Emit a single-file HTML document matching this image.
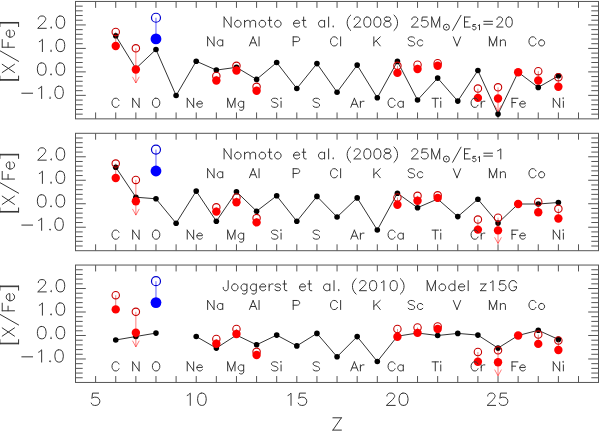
<!DOCTYPE html><html><head><meta charset="utf-8"><style>html,body{margin:0;padding:0;background:#fff;}svg{display:block}#w{width:600px;height:431px;overflow:hidden}</style></head><body><div id="w"><svg width="600" height="431" viewBox="0 0 600 431" font-family="Liberation Sans, sans-serif" style="font-kerning:none">
<rect width="600" height="431" fill="#fff"/>
<rect x="75.5" y="1.45" width="523" height="117.40" fill="none" stroke="#555" stroke-width="1"/>
<path d="M95.62 1.45v6.4M95.62 118.85v-6.4M115.74 1.45v6.4M115.74 118.85v-6.4M135.86 1.45v6.4M135.86 118.85v-6.4M155.98 1.45v6.4M155.98 118.85v-6.4M176.10 1.45v6.4M176.10 118.85v-6.4M196.22 1.45v6.4M196.22 118.85v-6.4M216.34 1.45v6.4M216.34 118.85v-6.4M236.46 1.45v6.4M236.46 118.85v-6.4M256.58 1.45v6.4M256.58 118.85v-6.4M276.70 1.45v6.4M276.70 118.85v-6.4M296.82 1.45v6.4M296.82 118.85v-6.4M316.94 1.45v6.4M316.94 118.85v-6.4M337.06 1.45v6.4M337.06 118.85v-6.4M357.18 1.45v6.4M357.18 118.85v-6.4M377.30 1.45v6.4M377.30 118.85v-6.4M397.42 1.45v6.4M397.42 118.85v-6.4M417.54 1.45v6.4M417.54 118.85v-6.4M437.66 1.45v6.4M437.66 118.85v-6.4M457.78 1.45v6.4M457.78 118.85v-6.4M477.90 1.45v6.4M477.90 118.85v-6.4M498.02 1.45v6.4M498.02 118.85v-6.4M518.14 1.45v6.4M518.14 118.85v-6.4M538.26 1.45v6.4M538.26 118.85v-6.4M558.38 1.45v6.4M558.38 118.85v-6.4M578.50 1.45v6.4M578.50 118.85v-6.4M75.5 114.15h7.2M598.5 114.15h-7.2M75.5 109.46h7.2M598.5 109.46h-7.2M75.5 104.76h7.2M598.5 104.76h-7.2M75.5 100.07h7.2M598.5 100.07h-7.2M75.5 95.37h10.3M598.5 95.37h-10.3M75.5 90.67h7.2M598.5 90.67h-7.2M75.5 85.98h7.2M598.5 85.98h-7.2M75.5 81.28h7.2M598.5 81.28h-7.2M75.5 76.59h7.2M598.5 76.59h-7.2M75.5 71.89h10.3M598.5 71.89h-10.3M75.5 67.19h7.2M598.5 67.19h-7.2M75.5 62.50h7.2M598.5 62.50h-7.2M75.5 57.80h7.2M598.5 57.80h-7.2M75.5 53.11h7.2M598.5 53.11h-7.2M75.5 48.41h10.3M598.5 48.41h-10.3M75.5 43.71h7.2M598.5 43.71h-7.2M75.5 39.02h7.2M598.5 39.02h-7.2M75.5 34.32h7.2M598.5 34.32h-7.2M75.5 29.63h7.2M598.5 29.63h-7.2M75.5 24.93h10.3M598.5 24.93h-10.3M75.5 20.23h7.2M598.5 20.23h-7.2M75.5 15.54h7.2M598.5 15.54h-7.2M75.5 10.84h7.2M598.5 10.84h-7.2M75.5 6.15h7.2M598.5 6.15h-7.2" stroke="#555" stroke-width="1" fill="none"/>
<rect x="75.5" y="133.30" width="523" height="117.40" fill="none" stroke="#555" stroke-width="1"/>
<path d="M95.62 133.30v6.4M95.62 250.70v-6.4M115.74 133.30v6.4M115.74 250.70v-6.4M135.86 133.30v6.4M135.86 250.70v-6.4M155.98 133.30v6.4M155.98 250.70v-6.4M176.10 133.30v6.4M176.10 250.70v-6.4M196.22 133.30v6.4M196.22 250.70v-6.4M216.34 133.30v6.4M216.34 250.70v-6.4M236.46 133.30v6.4M236.46 250.70v-6.4M256.58 133.30v6.4M256.58 250.70v-6.4M276.70 133.30v6.4M276.70 250.70v-6.4M296.82 133.30v6.4M296.82 250.70v-6.4M316.94 133.30v6.4M316.94 250.70v-6.4M337.06 133.30v6.4M337.06 250.70v-6.4M357.18 133.30v6.4M357.18 250.70v-6.4M377.30 133.30v6.4M377.30 250.70v-6.4M397.42 133.30v6.4M397.42 250.70v-6.4M417.54 133.30v6.4M417.54 250.70v-6.4M437.66 133.30v6.4M437.66 250.70v-6.4M457.78 133.30v6.4M457.78 250.70v-6.4M477.90 133.30v6.4M477.90 250.70v-6.4M498.02 133.30v6.4M498.02 250.70v-6.4M518.14 133.30v6.4M518.14 250.70v-6.4M538.26 133.30v6.4M538.26 250.70v-6.4M558.38 133.30v6.4M558.38 250.70v-6.4M578.50 133.30v6.4M578.50 250.70v-6.4M75.5 246.00h7.2M598.5 246.00h-7.2M75.5 241.31h7.2M598.5 241.31h-7.2M75.5 236.61h7.2M598.5 236.61h-7.2M75.5 231.92h7.2M598.5 231.92h-7.2M75.5 227.22h10.3M598.5 227.22h-10.3M75.5 222.52h7.2M598.5 222.52h-7.2M75.5 217.83h7.2M598.5 217.83h-7.2M75.5 213.13h7.2M598.5 213.13h-7.2M75.5 208.44h7.2M598.5 208.44h-7.2M75.5 203.74h10.3M598.5 203.74h-10.3M75.5 199.04h7.2M598.5 199.04h-7.2M75.5 194.35h7.2M598.5 194.35h-7.2M75.5 189.65h7.2M598.5 189.65h-7.2M75.5 184.96h7.2M598.5 184.96h-7.2M75.5 180.26h10.3M598.5 180.26h-10.3M75.5 175.56h7.2M598.5 175.56h-7.2M75.5 170.87h7.2M598.5 170.87h-7.2M75.5 166.17h7.2M598.5 166.17h-7.2M75.5 161.48h7.2M598.5 161.48h-7.2M75.5 156.78h10.3M598.5 156.78h-10.3M75.5 152.08h7.2M598.5 152.08h-7.2M75.5 147.39h7.2M598.5 147.39h-7.2M75.5 142.69h7.2M598.5 142.69h-7.2M75.5 138.00h7.2M598.5 138.00h-7.2" stroke="#555" stroke-width="1" fill="none"/>
<rect x="75.5" y="265.05" width="523" height="117.40" fill="none" stroke="#555" stroke-width="1"/>
<path d="M95.62 265.05v6.4M95.62 382.45v-6.4M115.74 265.05v6.4M115.74 382.45v-6.4M135.86 265.05v6.4M135.86 382.45v-6.4M155.98 265.05v6.4M155.98 382.45v-6.4M176.10 265.05v6.4M176.10 382.45v-6.4M196.22 265.05v6.4M196.22 382.45v-6.4M216.34 265.05v6.4M216.34 382.45v-6.4M236.46 265.05v6.4M236.46 382.45v-6.4M256.58 265.05v6.4M256.58 382.45v-6.4M276.70 265.05v6.4M276.70 382.45v-6.4M296.82 265.05v6.4M296.82 382.45v-6.4M316.94 265.05v6.4M316.94 382.45v-6.4M337.06 265.05v6.4M337.06 382.45v-6.4M357.18 265.05v6.4M357.18 382.45v-6.4M377.30 265.05v6.4M377.30 382.45v-6.4M397.42 265.05v6.4M397.42 382.45v-6.4M417.54 265.05v6.4M417.54 382.45v-6.4M437.66 265.05v6.4M437.66 382.45v-6.4M457.78 265.05v6.4M457.78 382.45v-6.4M477.90 265.05v6.4M477.90 382.45v-6.4M498.02 265.05v6.4M498.02 382.45v-6.4M518.14 265.05v6.4M518.14 382.45v-6.4M538.26 265.05v6.4M538.26 382.45v-6.4M558.38 265.05v6.4M558.38 382.45v-6.4M578.50 265.05v6.4M578.50 382.45v-6.4M75.5 377.75h7.2M598.5 377.75h-7.2M75.5 373.06h7.2M598.5 373.06h-7.2M75.5 368.36h7.2M598.5 368.36h-7.2M75.5 363.67h7.2M598.5 363.67h-7.2M75.5 358.97h10.3M598.5 358.97h-10.3M75.5 354.27h7.2M598.5 354.27h-7.2M75.5 349.58h7.2M598.5 349.58h-7.2M75.5 344.88h7.2M598.5 344.88h-7.2M75.5 340.19h7.2M598.5 340.19h-7.2M75.5 335.49h10.3M598.5 335.49h-10.3M75.5 330.79h7.2M598.5 330.79h-7.2M75.5 326.10h7.2M598.5 326.10h-7.2M75.5 321.40h7.2M598.5 321.40h-7.2M75.5 316.71h7.2M598.5 316.71h-7.2M75.5 312.01h10.3M598.5 312.01h-10.3M75.5 307.31h7.2M598.5 307.31h-7.2M75.5 302.62h7.2M598.5 302.62h-7.2M75.5 297.92h7.2M598.5 297.92h-7.2M75.5 293.23h7.2M598.5 293.23h-7.2M75.5 288.53h10.3M598.5 288.53h-10.3M75.5 283.83h7.2M598.5 283.83h-7.2M75.5 279.14h7.2M598.5 279.14h-7.2M75.5 274.44h7.2M598.5 274.44h-7.2M75.5 269.75h7.2M598.5 269.75h-7.2" stroke="#555" stroke-width="1" fill="none"/>
<polyline points="115.74,35.80 135.86,68.50 155.98,49.50 176.10,95.50 196.22,61.20 216.34,70.10 236.46,67.30 256.58,79.40 276.70,62.50 296.82,88.50 316.94,63.60 337.06,92.20 357.18,65.10 377.30,97.80 397.42,61.40 417.54,100.00 437.66,78.10 457.78,101.10 477.90,70.50 498.02,114.10 518.14,72.20 538.26,87.40 558.38,75.80" fill="none" stroke="#333" stroke-width="1"/>
<circle cx="115.74" cy="35.80" r="2.8" fill="#000"/>
<circle cx="135.86" cy="68.50" r="2.8" fill="#000"/>
<circle cx="155.98" cy="49.50" r="2.8" fill="#000"/>
<circle cx="176.10" cy="95.50" r="2.8" fill="#000"/>
<circle cx="196.22" cy="61.20" r="2.8" fill="#000"/>
<circle cx="216.34" cy="70.10" r="2.8" fill="#000"/>
<circle cx="236.46" cy="67.30" r="2.8" fill="#000"/>
<circle cx="256.58" cy="79.40" r="2.8" fill="#000"/>
<circle cx="276.70" cy="62.50" r="2.8" fill="#000"/>
<circle cx="296.82" cy="88.50" r="2.8" fill="#000"/>
<circle cx="316.94" cy="63.60" r="2.8" fill="#000"/>
<circle cx="337.06" cy="92.20" r="2.8" fill="#000"/>
<circle cx="357.18" cy="65.10" r="2.8" fill="#000"/>
<circle cx="377.30" cy="97.80" r="2.8" fill="#000"/>
<circle cx="397.42" cy="61.40" r="2.8" fill="#000"/>
<circle cx="417.54" cy="100.00" r="2.8" fill="#000"/>
<circle cx="437.66" cy="78.10" r="2.8" fill="#000"/>
<circle cx="457.78" cy="101.10" r="2.8" fill="#000"/>
<circle cx="477.90" cy="70.50" r="2.8" fill="#000"/>
<circle cx="498.02" cy="114.10" r="2.8" fill="#000"/>
<circle cx="518.14" cy="72.20" r="2.8" fill="#000"/>
<circle cx="538.26" cy="87.40" r="2.8" fill="#000"/>
<circle cx="558.38" cy="75.80" r="2.8" fill="#000"/>
<path d="M115.74 31.90V46.00" stroke="#c00000" stroke-width="0.8" opacity="0.6"/>
<path d="M135.86 48.30V83.00M132.46 76.80L135.86 83.00L139.26 76.80" fill="none" stroke="#ff0000" stroke-width="0.8" opacity="0.65"/>
<path d="M216.34 75.90V80.50" stroke="#c00000" stroke-width="0.8" opacity="0.6"/>
<path d="M236.46 65.80V70.50" stroke="#c00000" stroke-width="0.8" opacity="0.6"/>
<path d="M256.58 86.80V90.70" stroke="#c00000" stroke-width="0.8" opacity="0.6"/>
<path d="M397.42 65.80V72.90" stroke="#c00000" stroke-width="0.8" opacity="0.6"/>
<path d="M417.54 64.70V69.00" stroke="#c00000" stroke-width="0.8" opacity="0.6"/>
<path d="M437.66 63.20V65.80" stroke="#c00000" stroke-width="0.8" opacity="0.6"/>
<path d="M477.90 88.60V97.90" stroke="#c00000" stroke-width="0.8" opacity="0.6"/>
<path d="M498.02 87.30V111.50M494.62 105.30L498.02 111.50L501.42 105.30" fill="none" stroke="#ff0000" stroke-width="0.8" opacity="0.65"/>
<path d="M538.26 71.20V80.50" stroke="#c00000" stroke-width="0.8" opacity="0.6"/>
<path d="M558.38 77.20V86.70" stroke="#c00000" stroke-width="0.8" opacity="0.6"/>
<circle cx="115.74" cy="31.90" r="3.7" fill="none" stroke="#c80000" stroke-width="1.1"/>
<circle cx="135.86" cy="48.30" r="3.7" fill="none" stroke="#c80000" stroke-width="1.1"/>
<circle cx="216.34" cy="75.90" r="3.7" fill="none" stroke="#c80000" stroke-width="1.1"/>
<circle cx="236.46" cy="65.80" r="3.7" fill="none" stroke="#c80000" stroke-width="1.1"/>
<circle cx="256.58" cy="86.80" r="3.7" fill="none" stroke="#c80000" stroke-width="1.1"/>
<circle cx="397.42" cy="65.80" r="3.7" fill="none" stroke="#c80000" stroke-width="1.1"/>
<circle cx="417.54" cy="64.70" r="3.7" fill="none" stroke="#c80000" stroke-width="1.1"/>
<circle cx="437.66" cy="63.20" r="3.7" fill="none" stroke="#c80000" stroke-width="1.1"/>
<circle cx="477.90" cy="88.60" r="3.7" fill="none" stroke="#c80000" stroke-width="1.1"/>
<circle cx="498.02" cy="87.30" r="3.7" fill="none" stroke="#c80000" stroke-width="1.1"/>
<circle cx="538.26" cy="71.20" r="3.7" fill="none" stroke="#c80000" stroke-width="1.1"/>
<circle cx="558.38" cy="77.20" r="3.7" fill="none" stroke="#c80000" stroke-width="1.1"/>
<circle cx="115.74" cy="46.00" r="4.2" fill="#ff0000"/>
<circle cx="135.86" cy="69.50" r="4.2" fill="#ff0000"/>
<circle cx="216.34" cy="80.50" r="4.2" fill="#ff0000"/>
<circle cx="236.46" cy="70.50" r="4.2" fill="#ff0000"/>
<circle cx="256.58" cy="90.70" r="4.2" fill="#ff0000"/>
<circle cx="397.42" cy="72.90" r="4.2" fill="#ff0000"/>
<circle cx="417.54" cy="69.00" r="4.2" fill="#ff0000"/>
<circle cx="437.66" cy="65.80" r="4.2" fill="#ff0000"/>
<circle cx="477.90" cy="97.90" r="4.2" fill="#ff0000"/>
<circle cx="498.02" cy="98.50" r="4.2" fill="#ff0000"/>
<circle cx="518.14" cy="72.20" r="4.2" fill="#ff0000"/>
<circle cx="538.26" cy="80.50" r="4.2" fill="#ff0000"/>
<circle cx="558.38" cy="86.70" r="4.2" fill="#ff0000"/>
<path d="M155.98 17.75V38.90" stroke="#0000ff" stroke-width="0.9" opacity="0.7"/>
<circle cx="155.98" cy="17.75" r="4.5" fill="none" stroke="#0000d0" stroke-width="1.2"/>
<circle cx="155.98" cy="38.90" r="5.4" fill="#0000ff"/>
<polyline points="115.74,167.20 135.86,197.20 155.98,198.80 176.10,223.20 196.22,191.10 216.34,221.20 236.46,191.70 256.58,211.20 276.70,195.80 296.82,221.30 316.94,196.40 337.06,217.00 357.18,197.90 377.30,230.00 397.42,193.20 417.54,207.70 437.66,199.00 457.78,216.60 477.90,199.20 498.02,223.10 518.14,204.00 538.26,204.00 558.38,202.50" fill="none" stroke="#333" stroke-width="1"/>
<circle cx="115.74" cy="167.20" r="2.8" fill="#000"/>
<circle cx="135.86" cy="197.20" r="2.8" fill="#000"/>
<circle cx="155.98" cy="198.80" r="2.8" fill="#000"/>
<circle cx="176.10" cy="223.20" r="2.8" fill="#000"/>
<circle cx="196.22" cy="191.10" r="2.8" fill="#000"/>
<circle cx="216.34" cy="221.20" r="2.8" fill="#000"/>
<circle cx="236.46" cy="191.70" r="2.8" fill="#000"/>
<circle cx="256.58" cy="211.20" r="2.8" fill="#000"/>
<circle cx="276.70" cy="195.80" r="2.8" fill="#000"/>
<circle cx="296.82" cy="221.30" r="2.8" fill="#000"/>
<circle cx="316.94" cy="196.40" r="2.8" fill="#000"/>
<circle cx="337.06" cy="217.00" r="2.8" fill="#000"/>
<circle cx="357.18" cy="197.90" r="2.8" fill="#000"/>
<circle cx="377.30" cy="230.00" r="2.8" fill="#000"/>
<circle cx="397.42" cy="193.20" r="2.8" fill="#000"/>
<circle cx="417.54" cy="207.70" r="2.8" fill="#000"/>
<circle cx="437.66" cy="199.00" r="2.8" fill="#000"/>
<circle cx="457.78" cy="216.60" r="2.8" fill="#000"/>
<circle cx="477.90" cy="199.20" r="2.8" fill="#000"/>
<circle cx="498.02" cy="223.10" r="2.8" fill="#000"/>
<circle cx="518.14" cy="204.00" r="2.8" fill="#000"/>
<circle cx="538.26" cy="204.00" r="2.8" fill="#000"/>
<circle cx="558.38" cy="202.50" r="2.8" fill="#000"/>
<path d="M115.74 163.60V178.00" stroke="#c00000" stroke-width="0.8" opacity="0.6"/>
<path d="M135.86 179.90V215.10M132.46 208.90L135.86 215.10L139.26 208.90" fill="none" stroke="#ff0000" stroke-width="0.8" opacity="0.65"/>
<path d="M216.34 207.30V211.60" stroke="#c00000" stroke-width="0.8" opacity="0.6"/>
<path d="M236.46 197.50V202.30" stroke="#c00000" stroke-width="0.8" opacity="0.6"/>
<path d="M256.58 218.10V222.40" stroke="#c00000" stroke-width="0.8" opacity="0.6"/>
<path d="M397.42 197.50V204.70" stroke="#c00000" stroke-width="0.8" opacity="0.6"/>
<path d="M417.54 195.80V200.80" stroke="#c00000" stroke-width="0.8" opacity="0.6"/>
<path d="M437.66 195.30V197.90" stroke="#c00000" stroke-width="0.8" opacity="0.6"/>
<path d="M477.90 219.60V229.60" stroke="#c00000" stroke-width="0.8" opacity="0.6"/>
<path d="M498.02 217.70V243.50M494.62 237.30L498.02 243.50L501.42 237.30" fill="none" stroke="#ff0000" stroke-width="0.8" opacity="0.65"/>
<path d="M538.26 202.00V212.20" stroke="#c00000" stroke-width="0.8" opacity="0.6"/>
<path d="M558.38 208.80V218.50" stroke="#c00000" stroke-width="0.8" opacity="0.6"/>
<circle cx="115.74" cy="163.60" r="3.7" fill="none" stroke="#c80000" stroke-width="1.1"/>
<circle cx="135.86" cy="179.90" r="3.7" fill="none" stroke="#c80000" stroke-width="1.1"/>
<circle cx="216.34" cy="207.30" r="3.7" fill="none" stroke="#c80000" stroke-width="1.1"/>
<circle cx="236.46" cy="197.50" r="3.7" fill="none" stroke="#c80000" stroke-width="1.1"/>
<circle cx="256.58" cy="218.10" r="3.7" fill="none" stroke="#c80000" stroke-width="1.1"/>
<circle cx="397.42" cy="197.50" r="3.7" fill="none" stroke="#c80000" stroke-width="1.1"/>
<circle cx="417.54" cy="195.80" r="3.7" fill="none" stroke="#c80000" stroke-width="1.1"/>
<circle cx="437.66" cy="195.30" r="3.7" fill="none" stroke="#c80000" stroke-width="1.1"/>
<circle cx="477.90" cy="219.60" r="3.7" fill="none" stroke="#c80000" stroke-width="1.1"/>
<circle cx="498.02" cy="217.70" r="3.7" fill="none" stroke="#c80000" stroke-width="1.1"/>
<circle cx="538.26" cy="202.00" r="3.7" fill="none" stroke="#c80000" stroke-width="1.1"/>
<circle cx="558.38" cy="208.80" r="3.7" fill="none" stroke="#c80000" stroke-width="1.1"/>
<circle cx="115.74" cy="178.00" r="4.2" fill="#ff0000"/>
<circle cx="135.86" cy="201.20" r="4.2" fill="#ff0000"/>
<circle cx="216.34" cy="211.60" r="4.2" fill="#ff0000"/>
<circle cx="236.46" cy="202.30" r="4.2" fill="#ff0000"/>
<circle cx="256.58" cy="222.40" r="4.2" fill="#ff0000"/>
<circle cx="397.42" cy="204.70" r="4.2" fill="#ff0000"/>
<circle cx="417.54" cy="200.80" r="4.2" fill="#ff0000"/>
<circle cx="437.66" cy="197.90" r="4.2" fill="#ff0000"/>
<circle cx="477.90" cy="229.60" r="4.2" fill="#ff0000"/>
<circle cx="498.02" cy="230.40" r="4.2" fill="#ff0000"/>
<circle cx="518.14" cy="204.00" r="4.2" fill="#ff0000"/>
<circle cx="538.26" cy="212.20" r="4.2" fill="#ff0000"/>
<circle cx="558.38" cy="218.50" r="4.2" fill="#ff0000"/>
<path d="M155.98 149.60V171.00" stroke="#0000ff" stroke-width="0.9" opacity="0.7"/>
<circle cx="155.98" cy="149.60" r="4.5" fill="none" stroke="#0000d0" stroke-width="1.2"/>
<circle cx="155.98" cy="171.00" r="5.4" fill="#0000ff"/>
<polyline points="115.74,340.00 135.86,336.50 155.98,333.10" fill="none" stroke="#333" stroke-width="1"/>
<polyline points="196.22,336.50 216.34,348.10 236.46,335.10 256.58,344.80 276.70,335.10 296.82,345.90 316.94,333.40 337.06,356.80 357.18,336.60 377.30,361.50 397.42,336.20 417.54,333.00 437.66,335.50 457.78,333.40 477.90,335.10 498.02,348.10 518.14,335.50 538.26,330.30 558.38,339.40" fill="none" stroke="#333" stroke-width="1"/>
<circle cx="115.74" cy="340.00" r="2.8" fill="#000"/>
<circle cx="135.86" cy="336.50" r="2.8" fill="#000"/>
<circle cx="155.98" cy="333.10" r="2.8" fill="#000"/>
<circle cx="196.22" cy="336.50" r="2.8" fill="#000"/>
<circle cx="216.34" cy="348.10" r="2.8" fill="#000"/>
<circle cx="236.46" cy="335.10" r="2.8" fill="#000"/>
<circle cx="256.58" cy="344.80" r="2.8" fill="#000"/>
<circle cx="276.70" cy="335.10" r="2.8" fill="#000"/>
<circle cx="296.82" cy="345.90" r="2.8" fill="#000"/>
<circle cx="316.94" cy="333.40" r="2.8" fill="#000"/>
<circle cx="337.06" cy="356.80" r="2.8" fill="#000"/>
<circle cx="357.18" cy="336.60" r="2.8" fill="#000"/>
<circle cx="377.30" cy="361.50" r="2.8" fill="#000"/>
<circle cx="397.42" cy="336.20" r="2.8" fill="#000"/>
<circle cx="417.54" cy="333.00" r="2.8" fill="#000"/>
<circle cx="437.66" cy="335.50" r="2.8" fill="#000"/>
<circle cx="457.78" cy="333.40" r="2.8" fill="#000"/>
<circle cx="477.90" cy="335.10" r="2.8" fill="#000"/>
<circle cx="498.02" cy="348.10" r="2.8" fill="#000"/>
<circle cx="518.14" cy="335.50" r="2.8" fill="#000"/>
<circle cx="538.26" cy="330.30" r="2.8" fill="#000"/>
<circle cx="558.38" cy="339.40" r="2.8" fill="#000"/>
<path d="M115.74 295.20V309.40" stroke="#c00000" stroke-width="0.8" opacity="0.6"/>
<path d="M135.86 311.80V346.90M132.46 340.70L135.86 346.90L139.26 340.70" fill="none" stroke="#ff0000" stroke-width="0.8" opacity="0.65"/>
<path d="M216.34 339.00V343.80" stroke="#c00000" stroke-width="0.8" opacity="0.6"/>
<path d="M236.46 329.00V334.00" stroke="#c00000" stroke-width="0.8" opacity="0.6"/>
<path d="M256.58 351.80V355.00" stroke="#c00000" stroke-width="0.8" opacity="0.6"/>
<path d="M397.42 329.00V336.80" stroke="#c00000" stroke-width="0.8" opacity="0.6"/>
<path d="M417.54 327.50V332.90" stroke="#c00000" stroke-width="0.8" opacity="0.6"/>
<path d="M437.66 326.40V329.00" stroke="#c00000" stroke-width="0.8" opacity="0.6"/>
<path d="M477.90 352.00V361.70" stroke="#c00000" stroke-width="0.8" opacity="0.6"/>
<path d="M498.02 350.30V375.80M494.62 369.60L498.02 375.80L501.42 369.60" fill="none" stroke="#ff0000" stroke-width="0.8" opacity="0.65"/>
<path d="M538.26 334.60V343.90" stroke="#c00000" stroke-width="0.8" opacity="0.6"/>
<path d="M558.38 340.50V350.00" stroke="#c00000" stroke-width="0.8" opacity="0.6"/>
<circle cx="115.74" cy="295.20" r="3.7" fill="none" stroke="#c80000" stroke-width="1.1"/>
<circle cx="135.86" cy="311.80" r="3.7" fill="none" stroke="#c80000" stroke-width="1.1"/>
<circle cx="216.34" cy="339.00" r="3.7" fill="none" stroke="#c80000" stroke-width="1.1"/>
<circle cx="236.46" cy="329.00" r="3.7" fill="none" stroke="#c80000" stroke-width="1.1"/>
<circle cx="256.58" cy="351.80" r="3.7" fill="none" stroke="#c80000" stroke-width="1.1"/>
<circle cx="397.42" cy="329.00" r="3.7" fill="none" stroke="#c80000" stroke-width="1.1"/>
<circle cx="417.54" cy="327.50" r="3.7" fill="none" stroke="#c80000" stroke-width="1.1"/>
<circle cx="437.66" cy="326.40" r="3.7" fill="none" stroke="#c80000" stroke-width="1.1"/>
<circle cx="477.90" cy="352.00" r="3.7" fill="none" stroke="#c80000" stroke-width="1.1"/>
<circle cx="498.02" cy="350.30" r="3.7" fill="none" stroke="#c80000" stroke-width="1.1"/>
<circle cx="538.26" cy="334.60" r="3.7" fill="none" stroke="#c80000" stroke-width="1.1"/>
<circle cx="558.38" cy="340.50" r="3.7" fill="none" stroke="#c80000" stroke-width="1.1"/>
<circle cx="115.74" cy="309.40" r="4.2" fill="#ff0000"/>
<circle cx="135.86" cy="332.70" r="4.2" fill="#ff0000"/>
<circle cx="216.34" cy="343.80" r="4.2" fill="#ff0000"/>
<circle cx="236.46" cy="334.00" r="4.2" fill="#ff0000"/>
<circle cx="256.58" cy="355.00" r="4.2" fill="#ff0000"/>
<circle cx="397.42" cy="336.80" r="4.2" fill="#ff0000"/>
<circle cx="417.54" cy="332.90" r="4.2" fill="#ff0000"/>
<circle cx="437.66" cy="329.00" r="4.2" fill="#ff0000"/>
<circle cx="477.90" cy="361.70" r="4.2" fill="#ff0000"/>
<circle cx="498.02" cy="362.20" r="4.2" fill="#ff0000"/>
<circle cx="518.14" cy="335.50" r="4.2" fill="#ff0000"/>
<circle cx="538.26" cy="343.90" r="4.2" fill="#ff0000"/>
<circle cx="558.38" cy="350.00" r="4.2" fill="#ff0000"/>
<path d="M155.98 281.20V302.60" stroke="#0000ff" stroke-width="0.9" opacity="0.7"/>
<circle cx="155.98" cy="281.20" r="4.5" fill="none" stroke="#0000d0" stroke-width="1.2"/>
<circle cx="155.98" cy="302.60" r="5.4" fill="#0000ff"/>
<circle cx="446.4" cy="27.20" r="3.0" fill="none" stroke="#333" stroke-width="1.0"/>
<circle cx="446.4" cy="27.20" r="0.7" fill="#333"/>
<circle cx="446.4" cy="159.05" r="3.0" fill="none" stroke="#333" stroke-width="1.0"/>
<circle cx="446.4" cy="159.05" r="0.7" fill="#333"/>
<path d="M207.64 36.87L207.64 45.90M207.64 36.87L214.05 45.90M214.05 36.87L214.05 45.90M222.76 39.88L222.76 45.90M222.76 41.17L221.84 40.31L220.92 39.88L219.55 39.88L218.63 40.31L217.72 41.17L217.26 42.46L217.26 43.32L217.72 44.61L218.63 45.47L219.55 45.90L220.92 45.90L221.84 45.47L222.76 44.61M253.11 36.87L249.44 45.90M253.11 36.87L256.77 45.90M250.81 42.89L255.40 42.89M259.06 36.87L259.06 45.90M293.19 36.87L293.19 45.90M293.19 36.87L297.32 36.87L298.69 37.30L299.15 37.73L299.61 38.59L299.61 39.88L299.15 40.74L298.69 41.17L297.32 41.60L293.19 41.60M337.43 39.02L336.97 38.16L336.06 37.30L335.14 36.87L333.31 36.87L332.39 37.30L331.48 38.16L331.02 39.02L330.56 40.31L330.56 42.46L331.02 43.75L331.48 44.61L332.39 45.47L333.31 45.90L335.14 45.90L336.06 45.47L336.97 44.61L337.43 43.75M340.64 36.87L340.64 45.90M373.84 36.87L373.84 45.90M380.26 36.87L373.84 42.89M376.13 40.74L380.26 45.90M414.58 38.16L413.67 37.30L412.29 36.87L410.46 36.87L409.09 37.30L408.17 38.16L408.17 39.02L408.63 39.88L409.09 40.31L410.00 40.74L412.75 41.60L413.67 42.03L414.13 42.46L414.58 43.32L414.58 44.61L413.67 45.47L412.29 45.90L410.46 45.90L409.09 45.47L408.17 44.61M422.83 41.17L421.91 40.31L421.00 39.88L419.62 39.88L418.71 40.31L417.79 41.17L417.33 42.46L417.33 43.32L417.79 44.61L418.71 45.47L419.62 45.90L421.00 45.90L421.91 45.47L422.83 44.61M453.34 36.87L457.00 45.90M460.66 36.87L457.00 45.90M489.38 36.87L489.38 45.90M489.38 36.87L493.05 45.90M496.71 36.87L493.05 45.90M496.71 36.87L496.71 45.90M500.38 39.88L500.38 45.90M500.38 41.60L501.75 40.31L502.67 39.88L504.04 39.88L504.96 40.31L505.42 41.60L505.42 45.90M535.88 39.02L535.43 38.16L534.51 37.30L533.59 36.87L531.76 36.87L530.85 37.30L529.93 38.16L529.47 39.02L529.01 40.31L529.01 42.46L529.47 43.75L529.93 44.61L530.85 45.47L531.76 45.90L533.59 45.90L534.51 45.47L535.43 44.61L535.88 43.75M540.92 39.88L540.01 40.31L539.09 41.17L538.63 42.46L538.63 43.32L539.09 44.61L540.01 45.47L540.92 45.90L542.30 45.90L543.21 45.47L544.13 44.61L544.59 43.32L544.59 42.46L544.13 41.17L543.21 40.31L542.30 39.88L540.92 39.88M118.94 100.42L118.48 99.56L117.56 98.70L116.65 98.27L114.81 98.27L113.90 98.70L112.98 99.56L112.52 100.42L112.06 101.71L112.06 103.86L112.52 105.15L112.98 106.01L113.90 106.87L114.81 107.30L116.65 107.30L117.56 106.87L118.48 106.01L118.94 105.15M132.69 98.27L132.69 107.30M132.69 98.27L139.11 107.30M139.11 98.27L139.11 107.30M155.18 98.27L154.27 98.70L153.35 99.56L152.89 100.42L152.44 101.71L152.44 103.86L152.89 105.15L153.35 106.01L154.27 106.87L155.18 107.30L157.02 107.30L157.93 106.87L158.85 106.01L159.31 105.15L159.76 103.86L159.76 101.71L159.31 100.42L158.85 99.56L157.93 98.70L157.02 98.27L155.18 98.27M187.24 98.27L187.24 107.30M187.24 98.27L193.66 107.30M193.66 98.27L193.66 107.30M196.86 103.86L202.36 103.86L202.36 103.00L201.90 102.14L201.44 101.71L200.53 101.28L199.15 101.28L198.24 101.71L197.32 102.57L196.86 103.86L196.86 104.72L197.32 106.01L198.24 106.87L199.15 107.30L200.53 107.30L201.44 106.87L202.36 106.01M227.68 98.27L227.68 107.30M227.68 98.27L231.35 107.30M235.01 98.27L231.35 107.30M235.01 98.27L235.01 107.30M243.71 101.28L243.71 108.16L243.26 109.45L242.80 109.88L241.88 110.31L240.51 110.31L239.59 109.88M243.71 102.57L242.80 101.71L241.88 101.28L240.51 101.28L239.59 101.71L238.68 102.57L238.22 103.86L238.22 104.72L238.68 106.01L239.59 106.87L240.51 107.30L241.88 107.30L242.80 106.87L243.71 106.01M277.87 99.56L276.96 98.70L275.58 98.27L273.75 98.27L272.38 98.70L271.46 99.56L271.46 100.42L271.92 101.28L272.38 101.71L273.29 102.14L276.04 103.00L276.96 103.43L277.42 103.86L277.87 104.72L277.87 106.01L276.96 106.87L275.58 107.30L273.75 107.30L272.38 106.87L271.46 106.01M280.62 98.27L281.08 98.70L281.54 98.27L281.08 97.84L280.62 98.27M281.08 101.28L281.08 107.30M319.51 99.56L318.59 98.70L317.22 98.27L315.38 98.27L314.01 98.70L313.09 99.56L313.09 100.42L313.55 101.28L314.01 101.71L314.93 102.14L317.67 103.00L318.59 103.43L319.05 103.86L319.51 104.72L319.51 106.01L318.59 106.87L317.22 107.30L315.38 107.30L314.01 106.87L313.09 106.01M354.42 98.27L350.76 107.30M354.42 98.27L358.09 107.30M352.13 104.29L356.71 104.29M360.38 101.28L360.38 107.30M360.38 103.86L360.83 102.57L361.75 101.71L362.67 101.28L364.04 101.28M395.01 100.42L394.56 99.56L393.64 98.70L392.72 98.27L390.89 98.27L389.98 98.70L389.06 99.56L388.60 100.42L388.14 101.71L388.14 103.86L388.60 105.15L389.06 106.01L389.98 106.87L390.89 107.30L392.72 107.30L393.64 106.87L394.56 106.01L395.01 105.15M403.26 101.28L403.26 107.30M403.26 102.57L402.34 101.71L401.43 101.28L400.05 101.28L399.13 101.71L398.22 102.57L397.76 103.86L397.76 104.72L398.22 106.01L399.13 106.87L400.05 107.30L401.43 107.30L402.34 106.87L403.26 106.01M435.28 98.27L435.28 107.30M432.07 98.27L438.48 98.27M440.31 98.27L440.77 98.70L441.23 98.27L440.77 97.84L440.31 98.27M440.77 101.28L440.77 107.30M478.00 100.42L477.54 99.56L476.63 98.70L475.71 98.27L473.88 98.27L472.96 98.70L472.05 99.56L471.59 100.42L471.13 101.71L471.13 103.86L471.59 105.15L472.05 106.01L472.96 106.87L473.88 107.30L475.71 107.30L476.63 106.87L477.54 106.01L478.00 105.15M481.21 101.28L481.21 107.30M481.21 103.86L481.66 102.57L482.58 101.71L483.50 101.28L484.87 101.28M512.01 98.27L512.01 107.30M512.01 98.27L517.96 98.27M512.01 102.57L515.67 102.57M519.79 103.86L525.29 103.86L525.29 103.00L524.83 102.14L524.38 101.71L523.46 101.28L522.08 101.28L521.17 101.71L520.25 102.57L519.79 103.86L519.79 104.72L520.25 106.01L521.17 106.87L522.08 107.30L523.46 107.30L524.38 106.87L525.29 106.01M553.28 98.27L553.28 107.30M553.28 98.27L559.69 107.30M559.69 98.27L559.69 107.30M562.90 98.27L563.36 98.70L563.82 98.27L563.36 97.84L562.90 98.27M563.36 101.28L563.36 107.30M207.64 168.72L207.64 177.75M207.64 168.72L214.05 177.75M214.05 168.72L214.05 177.75M222.76 171.73L222.76 177.75M222.76 173.02L221.84 172.16L220.92 171.73L219.55 171.73L218.63 172.16L217.72 173.02L217.26 174.31L217.26 175.17L217.72 176.46L218.63 177.32L219.55 177.75L220.92 177.75L221.84 177.32L222.76 176.46M253.11 168.72L249.44 177.75M253.11 168.72L256.77 177.75M250.81 174.74L255.40 174.74M259.06 168.72L259.06 177.75M293.19 168.72L293.19 177.75M293.19 168.72L297.32 168.72L298.69 169.15L299.15 169.58L299.61 170.44L299.61 171.73L299.15 172.59L298.69 173.02L297.32 173.45L293.19 173.45M337.43 170.87L336.97 170.01L336.06 169.15L335.14 168.72L333.31 168.72L332.39 169.15L331.48 170.01L331.02 170.87L330.56 172.16L330.56 174.31L331.02 175.60L331.48 176.46L332.39 177.32L333.31 177.75L335.14 177.75L336.06 177.32L336.97 176.46L337.43 175.60M340.64 168.72L340.64 177.75M373.84 168.72L373.84 177.75M380.26 168.72L373.84 174.74M376.13 172.59L380.26 177.75M414.58 170.01L413.67 169.15L412.29 168.72L410.46 168.72L409.09 169.15L408.17 170.01L408.17 170.87L408.63 171.73L409.09 172.16L410.00 172.59L412.75 173.45L413.67 173.88L414.13 174.31L414.58 175.17L414.58 176.46L413.67 177.32L412.29 177.75L410.46 177.75L409.09 177.32L408.17 176.46M422.83 173.02L421.91 172.16L421.00 171.73L419.62 171.73L418.71 172.16L417.79 173.02L417.33 174.31L417.33 175.17L417.79 176.46L418.71 177.32L419.62 177.75L421.00 177.75L421.91 177.32L422.83 176.46M453.34 168.72L457.00 177.75M460.66 168.72L457.00 177.75M489.38 168.72L489.38 177.75M489.38 168.72L493.05 177.75M496.71 168.72L493.05 177.75M496.71 168.72L496.71 177.75M500.38 171.73L500.38 177.75M500.38 173.45L501.75 172.16L502.67 171.73L504.04 171.73L504.96 172.16L505.42 173.45L505.42 177.75M535.88 170.87L535.43 170.01L534.51 169.15L533.59 168.72L531.76 168.72L530.85 169.15L529.93 170.01L529.47 170.87L529.01 172.16L529.01 174.31L529.47 175.60L529.93 176.46L530.85 177.32L531.76 177.75L533.59 177.75L534.51 177.32L535.43 176.46L535.88 175.60M540.92 171.73L540.01 172.16L539.09 173.02L538.63 174.31L538.63 175.17L539.09 176.46L540.01 177.32L540.92 177.75L542.30 177.75L543.21 177.32L544.13 176.46L544.59 175.17L544.59 174.31L544.13 173.02L543.21 172.16L542.30 171.73L540.92 171.73M118.94 232.27L118.48 231.41L117.56 230.55L116.65 230.12L114.81 230.12L113.90 230.55L112.98 231.41L112.52 232.27L112.06 233.56L112.06 235.71L112.52 237.00L112.98 237.86L113.90 238.72L114.81 239.15L116.65 239.15L117.56 238.72L118.48 237.86L118.94 237.00M132.69 230.12L132.69 239.15M132.69 230.12L139.11 239.15M139.11 230.12L139.11 239.15M155.18 230.12L154.27 230.55L153.35 231.41L152.89 232.27L152.44 233.56L152.44 235.71L152.89 237.00L153.35 237.86L154.27 238.72L155.18 239.15L157.02 239.15L157.93 238.72L158.85 237.86L159.31 237.00L159.76 235.71L159.76 233.56L159.31 232.27L158.85 231.41L157.93 230.55L157.02 230.12L155.18 230.12M187.24 230.12L187.24 239.15M187.24 230.12L193.66 239.15M193.66 230.12L193.66 239.15M196.86 235.71L202.36 235.71L202.36 234.85L201.90 233.99L201.44 233.56L200.53 233.13L199.15 233.13L198.24 233.56L197.32 234.42L196.86 235.71L196.86 236.57L197.32 237.86L198.24 238.72L199.15 239.15L200.53 239.15L201.44 238.72L202.36 237.86M227.68 230.12L227.68 239.15M227.68 230.12L231.35 239.15M235.01 230.12L231.35 239.15M235.01 230.12L235.01 239.15M243.71 233.13L243.71 240.01L243.26 241.30L242.80 241.73L241.88 242.16L240.51 242.16L239.59 241.73M243.71 234.42L242.80 233.56L241.88 233.13L240.51 233.13L239.59 233.56L238.68 234.42L238.22 235.71L238.22 236.57L238.68 237.86L239.59 238.72L240.51 239.15L241.88 239.15L242.80 238.72L243.71 237.86M277.87 231.41L276.96 230.55L275.58 230.12L273.75 230.12L272.38 230.55L271.46 231.41L271.46 232.27L271.92 233.13L272.38 233.56L273.29 233.99L276.04 234.85L276.96 235.28L277.42 235.71L277.87 236.57L277.87 237.86L276.96 238.72L275.58 239.15L273.75 239.15L272.38 238.72L271.46 237.86M280.62 230.12L281.08 230.55L281.54 230.12L281.08 229.69L280.62 230.12M281.08 233.13L281.08 239.15M319.51 231.41L318.59 230.55L317.22 230.12L315.38 230.12L314.01 230.55L313.09 231.41L313.09 232.27L313.55 233.13L314.01 233.56L314.93 233.99L317.67 234.85L318.59 235.28L319.05 235.71L319.51 236.57L319.51 237.86L318.59 238.72L317.22 239.15L315.38 239.15L314.01 238.72L313.09 237.86M354.42 230.12L350.76 239.15M354.42 230.12L358.09 239.15M352.13 236.14L356.71 236.14M360.38 233.13L360.38 239.15M360.38 235.71L360.83 234.42L361.75 233.56L362.67 233.13L364.04 233.13M395.01 232.27L394.56 231.41L393.64 230.55L392.72 230.12L390.89 230.12L389.98 230.55L389.06 231.41L388.60 232.27L388.14 233.56L388.14 235.71L388.60 237.00L389.06 237.86L389.98 238.72L390.89 239.15L392.72 239.15L393.64 238.72L394.56 237.86L395.01 237.00M403.26 233.13L403.26 239.15M403.26 234.42L402.34 233.56L401.43 233.13L400.05 233.13L399.13 233.56L398.22 234.42L397.76 235.71L397.76 236.57L398.22 237.86L399.13 238.72L400.05 239.15L401.43 239.15L402.34 238.72L403.26 237.86M435.28 230.12L435.28 239.15M432.07 230.12L438.48 230.12M440.31 230.12L440.77 230.55L441.23 230.12L440.77 229.69L440.31 230.12M440.77 233.13L440.77 239.15M478.00 232.27L477.54 231.41L476.63 230.55L475.71 230.12L473.88 230.12L472.96 230.55L472.05 231.41L471.59 232.27L471.13 233.56L471.13 235.71L471.59 237.00L472.05 237.86L472.96 238.72L473.88 239.15L475.71 239.15L476.63 238.72L477.54 237.86L478.00 237.00M481.21 233.13L481.21 239.15M481.21 235.71L481.66 234.42L482.58 233.56L483.50 233.13L484.87 233.13M512.01 230.12L512.01 239.15M512.01 230.12L517.96 230.12M512.01 234.42L515.67 234.42M519.79 235.71L525.29 235.71L525.29 234.85L524.83 233.99L524.38 233.56L523.46 233.13L522.08 233.13L521.17 233.56L520.25 234.42L519.79 235.71L519.79 236.57L520.25 237.86L521.17 238.72L522.08 239.15L523.46 239.15L524.38 238.72L525.29 237.86M553.28 230.12L553.28 239.15M553.28 230.12L559.69 239.15M559.69 230.12L559.69 239.15M562.90 230.12L563.36 230.55L563.82 230.12L563.36 229.69L562.90 230.12M563.36 233.13L563.36 239.15M207.64 300.47L207.64 309.50M207.64 300.47L214.05 309.50M214.05 300.47L214.05 309.50M222.76 303.48L222.76 309.50M222.76 304.77L221.84 303.91L220.92 303.48L219.55 303.48L218.63 303.91L217.72 304.77L217.26 306.06L217.26 306.92L217.72 308.21L218.63 309.07L219.55 309.50L220.92 309.50L221.84 309.07L222.76 308.21M253.11 300.47L249.44 309.50M253.11 300.47L256.77 309.50M250.81 306.49L255.40 306.49M259.06 300.47L259.06 309.50M293.19 300.47L293.19 309.50M293.19 300.47L297.32 300.47L298.69 300.90L299.15 301.33L299.61 302.19L299.61 303.48L299.15 304.34L298.69 304.77L297.32 305.20L293.19 305.20M337.43 302.62L336.97 301.76L336.06 300.90L335.14 300.47L333.31 300.47L332.39 300.90L331.48 301.76L331.02 302.62L330.56 303.91L330.56 306.06L331.02 307.35L331.48 308.21L332.39 309.07L333.31 309.50L335.14 309.50L336.06 309.07L336.97 308.21L337.43 307.35M340.64 300.47L340.64 309.50M373.84 300.47L373.84 309.50M380.26 300.47L373.84 306.49M376.13 304.34L380.26 309.50M414.58 301.76L413.67 300.90L412.29 300.47L410.46 300.47L409.09 300.90L408.17 301.76L408.17 302.62L408.63 303.48L409.09 303.91L410.00 304.34L412.75 305.20L413.67 305.63L414.13 306.06L414.58 306.92L414.58 308.21L413.67 309.07L412.29 309.50L410.46 309.50L409.09 309.07L408.17 308.21M422.83 304.77L421.91 303.91L421.00 303.48L419.62 303.48L418.71 303.91L417.79 304.77L417.33 306.06L417.33 306.92L417.79 308.21L418.71 309.07L419.62 309.50L421.00 309.50L421.91 309.07L422.83 308.21M453.34 300.47L457.00 309.50M460.66 300.47L457.00 309.50M489.38 300.47L489.38 309.50M489.38 300.47L493.05 309.50M496.71 300.47L493.05 309.50M496.71 300.47L496.71 309.50M500.38 303.48L500.38 309.50M500.38 305.20L501.75 303.91L502.67 303.48L504.04 303.48L504.96 303.91L505.42 305.20L505.42 309.50M535.88 302.62L535.43 301.76L534.51 300.90L533.59 300.47L531.76 300.47L530.85 300.90L529.93 301.76L529.47 302.62L529.01 303.91L529.01 306.06L529.47 307.35L529.93 308.21L530.85 309.07L531.76 309.50L533.59 309.50L534.51 309.07L535.43 308.21L535.88 307.35M540.92 303.48L540.01 303.91L539.09 304.77L538.63 306.06L538.63 306.92L539.09 308.21L540.01 309.07L540.92 309.50L542.30 309.50L543.21 309.07L544.13 308.21L544.59 306.92L544.59 306.06L544.13 304.77L543.21 303.91L542.30 303.48L540.92 303.48M118.94 364.02L118.48 363.16L117.56 362.30L116.65 361.87L114.81 361.87L113.90 362.30L112.98 363.16L112.52 364.02L112.06 365.31L112.06 367.46L112.52 368.75L112.98 369.61L113.90 370.47L114.81 370.90L116.65 370.90L117.56 370.47L118.48 369.61L118.94 368.75M132.69 361.87L132.69 370.90M132.69 361.87L139.11 370.90M139.11 361.87L139.11 370.90M155.18 361.87L154.27 362.30L153.35 363.16L152.89 364.02L152.44 365.31L152.44 367.46L152.89 368.75L153.35 369.61L154.27 370.47L155.18 370.90L157.02 370.90L157.93 370.47L158.85 369.61L159.31 368.75L159.76 367.46L159.76 365.31L159.31 364.02L158.85 363.16L157.93 362.30L157.02 361.87L155.18 361.87M187.24 361.87L187.24 370.90M187.24 361.87L193.66 370.90M193.66 361.87L193.66 370.90M196.86 367.46L202.36 367.46L202.36 366.60L201.90 365.74L201.44 365.31L200.53 364.88L199.15 364.88L198.24 365.31L197.32 366.17L196.86 367.46L196.86 368.32L197.32 369.61L198.24 370.47L199.15 370.90L200.53 370.90L201.44 370.47L202.36 369.61M227.68 361.87L227.68 370.90M227.68 361.87L231.35 370.90M235.01 361.87L231.35 370.90M235.01 361.87L235.01 370.90M243.71 364.88L243.71 371.76L243.26 373.05L242.80 373.48L241.88 373.91L240.51 373.91L239.59 373.48M243.71 366.17L242.80 365.31L241.88 364.88L240.51 364.88L239.59 365.31L238.68 366.17L238.22 367.46L238.22 368.32L238.68 369.61L239.59 370.47L240.51 370.90L241.88 370.90L242.80 370.47L243.71 369.61M277.87 363.16L276.96 362.30L275.58 361.87L273.75 361.87L272.38 362.30L271.46 363.16L271.46 364.02L271.92 364.88L272.38 365.31L273.29 365.74L276.04 366.60L276.96 367.03L277.42 367.46L277.87 368.32L277.87 369.61L276.96 370.47L275.58 370.90L273.75 370.90L272.38 370.47L271.46 369.61M280.62 361.87L281.08 362.30L281.54 361.87L281.08 361.44L280.62 361.87M281.08 364.88L281.08 370.90M319.51 363.16L318.59 362.30L317.22 361.87L315.38 361.87L314.01 362.30L313.09 363.16L313.09 364.02L313.55 364.88L314.01 365.31L314.93 365.74L317.67 366.60L318.59 367.03L319.05 367.46L319.51 368.32L319.51 369.61L318.59 370.47L317.22 370.90L315.38 370.90L314.01 370.47L313.09 369.61M354.42 361.87L350.76 370.90M354.42 361.87L358.09 370.90M352.13 367.89L356.71 367.89M360.38 364.88L360.38 370.90M360.38 367.46L360.83 366.17L361.75 365.31L362.67 364.88L364.04 364.88M395.01 364.02L394.56 363.16L393.64 362.30L392.72 361.87L390.89 361.87L389.98 362.30L389.06 363.16L388.60 364.02L388.14 365.31L388.14 367.46L388.60 368.75L389.06 369.61L389.98 370.47L390.89 370.90L392.72 370.90L393.64 370.47L394.56 369.61L395.01 368.75M403.26 364.88L403.26 370.90M403.26 366.17L402.34 365.31L401.43 364.88L400.05 364.88L399.13 365.31L398.22 366.17L397.76 367.46L397.76 368.32L398.22 369.61L399.13 370.47L400.05 370.90L401.43 370.90L402.34 370.47L403.26 369.61M435.28 361.87L435.28 370.90M432.07 361.87L438.48 361.87M440.31 361.87L440.77 362.30L441.23 361.87L440.77 361.44L440.31 361.87M440.77 364.88L440.77 370.90M478.00 364.02L477.54 363.16L476.63 362.30L475.71 361.87L473.88 361.87L472.96 362.30L472.05 363.16L471.59 364.02L471.13 365.31L471.13 367.46L471.59 368.75L472.05 369.61L472.96 370.47L473.88 370.90L475.71 370.90L476.63 370.47L477.54 369.61L478.00 368.75M481.21 364.88L481.21 370.90M481.21 367.46L481.66 366.17L482.58 365.31L483.50 364.88L484.87 364.88M512.01 361.87L512.01 370.90M512.01 361.87L517.96 361.87M512.01 366.17L515.67 366.17M519.79 367.46L525.29 367.46L525.29 366.60L524.83 365.74L524.38 365.31L523.46 364.88L522.08 364.88L521.17 365.31L520.25 366.17L519.79 367.46L519.79 368.32L520.25 369.61L521.17 370.47L522.08 370.90L523.46 370.90L524.38 370.47L525.29 369.61M553.28 361.87L553.28 370.90M553.28 361.87L559.69 370.90M559.69 361.87L559.69 370.90M562.90 361.87L563.36 362.30L563.82 361.87L563.36 361.44L562.90 361.87M563.36 364.88L563.36 370.90M38.31 18.94L38.31 18.36L38.93 17.19L39.54 16.60L40.77 16.02L43.22 16.02L44.45 16.60L45.06 17.19L45.68 18.36L45.68 19.53L45.06 20.70L43.84 22.45L37.70 28.30L46.29 28.30M51.20 27.13L50.59 27.71L51.20 28.30L51.81 27.71L51.20 27.13M59.79 16.02L57.95 16.60L56.72 18.36L56.11 21.28L56.11 23.04L56.72 25.96L57.95 27.71L59.79 28.30L61.02 28.30L62.86 27.71L64.09 25.96L64.70 23.04L64.70 21.28L64.09 18.36L62.86 16.60L61.02 16.02L59.79 16.02M39.30 41.66L40.54 41.07L42.40 39.31L42.40 51.60M51.07 50.43L50.45 51.02L51.07 51.60L51.69 51.02L51.07 50.43M59.74 39.31L57.89 39.90L56.65 41.66L56.03 44.58L56.03 46.34L56.65 49.26L57.89 51.02L59.74 51.60L60.98 51.60L62.84 51.02L64.08 49.26L64.70 46.34L64.70 44.58L64.08 41.66L62.84 39.90L60.98 39.31L59.74 39.31M41.12 62.92L39.26 63.50L38.02 65.25L37.40 68.18L37.40 69.94L38.02 72.86L39.26 74.62L41.12 75.20L42.36 75.20L44.23 74.62L45.47 72.86L46.09 69.94L46.09 68.18L45.47 65.25L44.23 63.50L42.36 62.92L41.12 62.92M51.05 74.03L50.43 74.62L51.05 75.20L51.67 74.62L51.05 74.03M59.74 62.92L57.88 63.50L56.63 65.25L56.01 68.18L56.01 69.94L56.63 72.86L57.88 74.62L59.74 75.20L60.98 75.20L62.84 74.62L64.08 72.86L64.70 69.94L64.70 68.18L64.08 65.25L62.84 63.50L60.98 62.92L59.74 62.92M21.80 93.23L32.63 93.23M38.64 88.56L39.84 87.97L41.65 86.22L41.65 98.50M50.07 97.33L49.47 97.92L50.07 98.50L50.67 97.92L50.07 97.33M58.49 86.22L56.68 86.80L55.48 88.56L54.88 91.48L54.88 93.23L55.48 96.16L56.68 97.92L58.49 98.50L59.69 98.50L61.50 97.92L62.70 96.16L63.30 93.23L63.30 91.48L62.70 88.56L61.50 86.80L59.69 86.22L58.49 86.22M-0.12 80.19L18.59 80.19M-0.12 79.61L18.59 79.61M-0.12 80.19L-0.12 76.07M18.59 80.19L18.59 76.07M2.21 72.54L14.50 64.29M2.21 64.29L14.50 72.54M-0.12 50.74L18.59 61.35M2.21 47.21L14.50 47.21M2.21 47.21L2.21 39.55M8.07 47.21L8.07 42.50M9.82 37.20L9.82 30.13L8.65 30.13L7.48 30.72L6.90 31.31L6.31 32.49L6.31 34.25L6.90 35.43L8.07 36.61L9.82 37.20L10.99 37.20L12.75 36.61L13.91 35.43L14.50 34.25L14.50 32.49L13.91 31.31L12.75 30.13M-0.12 23.06L18.59 23.06M-0.12 22.47L18.59 22.47M-0.12 26.60L-0.12 22.47M18.59 26.60L18.59 22.47M38.31 150.79L38.31 150.21L38.93 149.04L39.54 148.45L40.77 147.87L43.22 147.87L44.45 148.45L45.06 149.04L45.68 150.21L45.68 151.38L45.06 152.55L43.84 154.30L37.70 160.15L46.29 160.15M51.20 158.98L50.59 159.57L51.20 160.15L51.81 159.57L51.20 158.98M59.79 147.87L57.95 148.45L56.72 150.21L56.11 153.13L56.11 154.89L56.72 157.81L57.95 159.57L59.79 160.15L61.02 160.15L62.86 159.57L64.09 157.81L64.70 154.89L64.70 153.13L64.09 150.21L62.86 148.45L61.02 147.87L59.79 147.87M39.30 173.51L40.54 172.92L42.40 171.17L42.40 183.45M51.07 182.28L50.45 182.87L51.07 183.45L51.69 182.87L51.07 182.28M59.74 171.17L57.89 171.75L56.65 173.51L56.03 176.43L56.03 178.19L56.65 181.11L57.89 182.87L59.74 183.45L60.98 183.45L62.84 182.87L64.08 181.11L64.70 178.19L64.70 176.43L64.08 173.51L62.84 171.75L60.98 171.17L59.74 171.17M41.12 194.77L39.26 195.35L38.02 197.11L37.40 200.03L37.40 201.79L38.02 204.71L39.26 206.47L41.12 207.05L42.36 207.05L44.23 206.47L45.47 204.71L46.09 201.79L46.09 200.03L45.47 197.11L44.23 195.35L42.36 194.77L41.12 194.77M51.05 205.88L50.43 206.47L51.05 207.05L51.67 206.47L51.05 205.88M59.74 194.77L57.88 195.35L56.63 197.11L56.01 200.03L56.01 201.79L56.63 204.71L57.88 206.47L59.74 207.05L60.98 207.05L62.84 206.47L64.08 204.71L64.70 201.79L64.70 200.03L64.08 197.11L62.84 195.35L60.98 194.77L59.74 194.77M21.80 225.09L32.63 225.09M38.64 220.41L39.84 219.82L41.65 218.07L41.65 230.35M50.07 229.18L49.47 229.77L50.07 230.35L50.67 229.77L50.07 229.18M58.49 218.07L56.68 218.65L55.48 220.41L54.88 223.33L54.88 225.09L55.48 228.01L56.68 229.77L58.49 230.35L59.69 230.35L61.50 229.77L62.70 228.01L63.30 225.09L63.30 223.33L62.70 220.41L61.50 218.65L59.69 218.07L58.49 218.07M-0.12 212.04L18.59 212.04M-0.12 211.46L18.59 211.46M-0.12 212.04L-0.12 207.92M18.59 212.04L18.59 207.92M2.21 204.39L14.50 196.14M2.21 196.14L14.50 204.39M-0.12 182.59L18.59 193.20M2.21 179.06L14.50 179.06M2.21 179.06L2.21 171.40M8.07 179.06L8.07 174.35M9.82 169.05L9.82 161.98L8.65 161.98L7.48 162.57L6.90 163.16L6.31 164.34L6.31 166.10L6.90 167.28L8.07 168.46L9.82 169.05L10.99 169.05L12.75 168.46L13.91 167.28L14.50 166.10L14.50 164.34L13.91 163.16L12.75 161.98M-0.12 154.91L18.59 154.91M-0.12 154.32L18.59 154.32M-0.12 158.45L-0.12 154.32M18.59 158.45L18.59 154.32M38.31 282.54L38.31 281.96L38.93 280.79L39.54 280.20L40.77 279.62L43.22 279.62L44.45 280.20L45.06 280.79L45.68 281.96L45.68 283.13L45.06 284.30L43.84 286.05L37.70 291.90L46.29 291.90M51.20 290.73L50.59 291.32L51.20 291.90L51.81 291.32L51.20 290.73M59.79 279.62L57.95 280.20L56.72 281.96L56.11 284.88L56.11 286.64L56.72 289.56L57.95 291.32L59.79 291.90L61.02 291.90L62.86 291.32L64.09 289.56L64.70 286.64L64.70 284.88L64.09 281.96L62.86 280.20L61.02 279.62L59.79 279.62M39.30 305.26L40.54 304.67L42.40 302.92L42.40 315.20M51.07 314.03L50.45 314.62L51.07 315.20L51.69 314.62L51.07 314.03M59.74 302.92L57.89 303.50L56.65 305.26L56.03 308.18L56.03 309.94L56.65 312.86L57.89 314.62L59.74 315.20L60.98 315.20L62.84 314.62L64.08 312.86L64.70 309.94L64.70 308.18L64.08 305.26L62.84 303.50L60.98 302.92L59.74 302.92M41.12 326.51L39.26 327.10L38.02 328.86L37.40 331.78L37.40 333.54L38.02 336.46L39.26 338.22L41.12 338.80L42.36 338.80L44.23 338.22L45.47 336.46L46.09 333.54L46.09 331.78L45.47 328.86L44.23 327.10L42.36 326.51L41.12 326.51M51.05 337.63L50.43 338.22L51.05 338.80L51.67 338.22L51.05 337.63M59.74 326.51L57.88 327.10L56.63 328.86L56.01 331.78L56.01 333.54L56.63 336.46L57.88 338.22L59.74 338.80L60.98 338.80L62.84 338.22L64.08 336.46L64.70 333.54L64.70 331.78L64.08 328.86L62.84 327.10L60.98 326.51L59.74 326.51M21.80 356.84L32.63 356.84M38.64 352.16L39.84 351.57L41.65 349.81L41.65 362.10M50.07 360.93L49.47 361.52L50.07 362.10L50.67 361.52L50.07 360.93M58.49 349.81L56.68 350.40L55.48 352.16L54.88 355.08L54.88 356.84L55.48 359.76L56.68 361.52L58.49 362.10L59.69 362.10L61.50 361.52L62.70 359.76L63.30 356.84L63.30 355.08L62.70 352.16L61.50 350.40L59.69 349.81L58.49 349.81M-0.12 343.79L18.59 343.79M-0.12 343.21L18.59 343.21M-0.12 343.79L-0.12 339.67M18.59 343.79L18.59 339.67M2.21 336.14L14.50 327.89M2.21 327.89L14.50 336.14M-0.12 314.34L18.59 324.95M2.21 310.81L14.50 310.81M2.21 310.81L2.21 303.15M8.07 310.81L8.07 306.10M9.82 300.80L9.82 293.73L8.65 293.73L7.48 294.32L6.90 294.91L6.31 296.09L6.31 297.85L6.90 299.03L8.07 300.21L9.82 300.80L10.99 300.80L12.75 300.21L13.91 299.03L14.50 297.85L14.50 296.09L13.91 294.91L12.75 293.73M-0.12 286.66L18.59 286.66M-0.12 286.07L18.59 286.07M-0.12 290.20L-0.12 286.07M18.59 290.20L18.59 286.07M98.59 393.11L92.51 393.11L91.91 398.38L92.51 397.79L94.34 397.21L96.16 397.21L97.98 397.79L99.19 398.96L99.80 400.72L99.80 401.89L99.19 403.64L97.98 404.81L96.16 405.40L94.34 405.40L92.51 404.81L91.91 404.23L91.30 403.06M187.20 395.45L188.43 394.87L190.26 393.11L190.26 405.40M201.30 393.11L199.46 393.70L198.23 395.45L197.62 398.38L197.62 400.13L198.23 403.06L199.46 404.81L201.30 405.40L202.52 405.40L204.36 404.81L205.59 403.06L206.20 400.13L206.20 398.38L205.59 395.45L204.36 393.70L202.52 393.11L201.30 393.11M288.00 395.45L289.21 394.87L291.02 393.11L291.02 405.40M305.49 393.11L299.46 393.11L298.86 398.38L299.46 397.79L301.27 397.21L303.08 397.21L304.89 397.79L306.10 398.96L306.70 400.72L306.70 401.89L306.10 403.64L304.89 404.81L303.08 405.40L301.27 405.40L299.46 404.81L298.86 404.23L298.25 403.06M386.94 396.04L386.94 395.45L387.58 394.28L388.21 393.70L389.49 393.11L392.04 393.11L393.32 393.70L393.96 394.28L394.60 395.45L394.60 396.62L393.96 397.79L392.68 399.55L386.30 405.40L395.24 405.40M402.89 393.11L400.98 393.70L399.70 395.45L399.06 398.38L399.06 400.13L399.70 403.06L400.98 404.81L402.89 405.40L404.17 405.40L406.09 404.81L407.36 403.06L408.00 400.13L408.00 398.38L407.36 395.45L406.09 393.70L404.17 393.11L402.89 393.11M487.71 396.04L487.71 395.45L488.32 394.28L488.93 393.70L490.14 393.11L492.58 393.11L493.80 393.70L494.41 394.28L495.01 395.45L495.01 396.62L494.41 397.79L493.19 399.55L487.10 405.40L495.62 405.40M506.58 393.11L500.49 393.11L499.89 398.38L500.49 397.79L502.32 397.21L504.15 397.21L505.97 397.79L507.19 398.96L507.80 400.72L507.80 401.89L507.19 403.64L505.97 404.81L504.15 405.40L502.32 405.40L500.49 404.81L499.89 404.23L499.28 403.06M341.40 417.81L332.90 430.10M332.90 417.81L341.40 417.81M332.90 430.10L341.40 430.10M224.10 17.02L224.10 27.10M224.10 17.02L231.10 27.10M231.10 17.02L231.10 27.10M237.10 20.38L236.10 20.86L235.10 21.82L234.60 23.26L234.60 24.22L235.10 25.66L236.10 26.62L237.10 27.10L238.60 27.10L239.60 26.62L240.60 25.66L241.10 24.22L241.10 23.26L240.60 21.82L239.60 20.86L238.60 20.38L237.10 20.38M244.60 20.38L244.60 27.10M244.60 22.30L246.10 20.86L247.10 20.38L248.60 20.38L249.60 20.86L250.10 22.30L250.10 27.10M250.10 22.30L251.60 20.86L252.60 20.38L254.10 20.38L255.10 20.86L255.60 22.30L255.60 27.10M261.60 20.38L260.60 20.86L259.60 21.82L259.10 23.26L259.10 24.22L259.60 25.66L260.60 26.62L261.60 27.10L263.10 27.10L264.10 26.62L265.10 25.66L265.60 24.22L265.60 23.26L265.10 21.82L264.10 20.86L263.10 20.38L261.60 20.38M269.60 17.02L269.60 25.18L270.10 26.62L271.10 27.10L272.10 27.10M268.10 20.38L271.60 20.38M277.10 20.38L276.10 20.86L275.10 21.82L274.60 23.26L274.60 24.22L275.10 25.66L276.10 26.62L277.10 27.10L278.60 27.10L279.60 26.62L280.60 25.66L281.10 24.22L281.10 23.26L280.60 21.82L279.60 20.86L278.60 20.38L277.10 20.38M293.50 23.26L299.60 23.26L299.60 22.30L299.09 21.34L298.58 20.86L297.56 20.38L296.04 20.38L295.02 20.86L294.01 21.82L293.50 23.26L293.50 24.22L294.01 25.66L295.02 26.62L296.04 27.10L297.56 27.10L298.58 26.62L299.60 25.66M303.66 17.02L303.66 25.18L304.17 26.62L305.18 27.10L306.20 27.10M302.14 20.38L305.69 20.38M324.58 20.38L324.58 27.10M324.58 21.82L323.57 20.86L322.55 20.38L321.03 20.38L320.02 20.86L319.01 21.82L318.50 23.26L318.50 24.22L319.01 25.66L320.02 26.62L321.03 27.10L322.55 27.10L323.57 26.62L324.58 25.66M328.63 17.02L328.63 27.10M333.19 26.14L332.69 26.62L333.19 27.10L333.70 26.62L333.19 26.14M350.72 15.10L349.71 16.06L348.71 17.50L347.70 19.42L347.20 21.82L347.20 23.74L347.70 26.14L348.71 28.06L349.71 29.50L350.72 30.46M354.24 19.42L354.24 18.94L354.75 17.98L355.25 17.50L356.25 17.02L358.27 17.02L359.27 17.50L359.77 17.98L360.28 18.94L360.28 19.90L359.77 20.86L358.77 22.30L353.74 27.10L360.78 27.10M366.82 17.02L365.31 17.50L364.30 18.94L363.80 21.34L363.80 22.78L364.30 25.18L365.31 26.62L366.82 27.10L367.82 27.10L369.33 26.62L370.34 25.18L370.84 22.78L370.84 21.34L370.34 18.94L369.33 17.50L367.82 17.02L366.82 17.02M376.88 17.02L375.37 17.50L374.36 18.94L373.86 21.34L373.86 22.78L374.36 25.18L375.37 26.62L376.88 27.10L377.88 27.10L379.39 26.62L380.40 25.18L380.90 22.78L380.90 21.34L380.40 18.94L379.39 17.50L377.88 17.02L376.88 17.02M386.43 17.02L384.93 17.50L384.42 18.46L384.42 19.42L384.93 20.38L385.93 20.86L387.94 21.34L389.45 21.82L390.46 22.78L390.96 23.74L390.96 25.18L390.46 26.14L389.95 26.62L388.45 27.10L386.43 27.10L384.93 26.62L384.42 26.14L383.92 25.18L383.92 23.74L384.42 22.78L385.43 21.82L386.94 21.34L388.95 20.86L389.95 20.38L390.46 19.42L390.46 18.46L389.95 17.50L388.45 17.02L386.43 17.02M393.98 15.10L394.99 16.06L395.99 17.50L397.00 19.42L397.50 21.82L397.50 23.74L397.00 26.14L395.99 28.06L394.99 29.50L393.98 30.46M411.80 19.42L411.80 18.94L412.30 17.98L412.79 17.50L413.79 17.02L415.78 17.02L416.78 17.50L417.28 17.98L417.78 18.94L417.78 19.90L417.28 20.86L416.28 22.30L411.30 27.10L418.28 27.10M427.24 17.02L422.26 17.02L421.76 21.34L422.26 20.86L423.76 20.38L425.25 20.38L426.75 20.86L427.74 21.82L428.24 23.26L428.24 24.22L427.74 25.66L426.75 26.62L425.25 27.10L423.76 27.10L422.26 26.62L421.76 26.14L421.26 25.18M431.73 17.02L431.73 27.10M431.73 17.02L435.71 27.10M439.70 17.02L435.71 27.10M439.70 17.02L439.70 27.10M452.6 30.40L461.0 15.30M464.50 17.02L464.50 27.10M464.50 17.02L470.20 17.02M464.50 21.82L468.01 21.82M464.50 27.10L470.20 27.10M475.50 24.55L473.00 24.55L472.75 26.80L473.00 26.55L473.75 26.30L474.50 26.30L475.25 26.55L475.75 27.05L476.00 27.80L476.00 28.30L475.75 29.05L475.25 29.55L474.50 29.80L473.75 29.80L473.00 29.55L472.75 29.30L472.50 28.80M478.25 25.55L478.75 25.30L479.50 24.55L479.50 29.80M483.80 21.34L492.50 21.34M483.80 24.22L492.50 24.22M496.96 19.42L496.96 18.94L497.43 17.98L497.89 17.50L498.82 17.02L500.68 17.02L501.61 17.50L502.08 17.98L502.54 18.94L502.54 19.90L502.08 20.86L501.15 22.30L496.50 27.10L503.01 27.10M508.58 17.02L507.19 17.50L506.26 18.94L505.79 21.34L505.79 22.78L506.26 25.18L507.19 26.62L508.58 27.10L509.51 27.10L510.91 26.62L511.84 25.18L512.30 22.78L512.30 21.34L511.84 18.94L510.91 17.50L509.51 17.02L508.58 17.02M224.10 148.87L224.10 158.95M224.10 148.87L231.10 158.95M231.10 148.87L231.10 158.95M237.10 152.23L236.10 152.71L235.10 153.67L234.60 155.11L234.60 156.07L235.10 157.51L236.10 158.47L237.10 158.95L238.60 158.95L239.60 158.47L240.60 157.51L241.10 156.07L241.10 155.11L240.60 153.67L239.60 152.71L238.60 152.23L237.10 152.23M244.60 152.23L244.60 158.95M244.60 154.15L246.10 152.71L247.10 152.23L248.60 152.23L249.60 152.71L250.10 154.15L250.10 158.95M250.10 154.15L251.60 152.71L252.60 152.23L254.10 152.23L255.10 152.71L255.60 154.15L255.60 158.95M261.60 152.23L260.60 152.71L259.60 153.67L259.10 155.11L259.10 156.07L259.60 157.51L260.60 158.47L261.60 158.95L263.10 158.95L264.10 158.47L265.10 157.51L265.60 156.07L265.60 155.11L265.10 153.67L264.10 152.71L263.10 152.23L261.60 152.23M269.60 148.87L269.60 157.03L270.10 158.47L271.10 158.95L272.10 158.95M268.10 152.23L271.60 152.23M277.10 152.23L276.10 152.71L275.10 153.67L274.60 155.11L274.60 156.07L275.10 157.51L276.10 158.47L277.10 158.95L278.60 158.95L279.60 158.47L280.60 157.51L281.10 156.07L281.10 155.11L280.60 153.67L279.60 152.71L278.60 152.23L277.10 152.23M293.50 155.11L299.60 155.11L299.60 154.15L299.09 153.19L298.58 152.71L297.56 152.23L296.04 152.23L295.02 152.71L294.01 153.67L293.50 155.11L293.50 156.07L294.01 157.51L295.02 158.47L296.04 158.95L297.56 158.95L298.58 158.47L299.60 157.51M303.66 148.87L303.66 157.03L304.17 158.47L305.18 158.95L306.20 158.95M302.14 152.23L305.69 152.23M324.58 152.23L324.58 158.95M324.58 153.67L323.57 152.71L322.55 152.23L321.03 152.23L320.02 152.71L319.01 153.67L318.50 155.11L318.50 156.07L319.01 157.51L320.02 158.47L321.03 158.95L322.55 158.95L323.57 158.47L324.58 157.51M328.63 148.87L328.63 158.95M333.19 157.99L332.69 158.47L333.19 158.95L333.70 158.47L333.19 157.99M350.72 146.95L349.71 147.91L348.71 149.35L347.70 151.27L347.20 153.67L347.20 155.59L347.70 157.99L348.71 159.91L349.71 161.35L350.72 162.31M354.24 151.27L354.24 150.79L354.75 149.83L355.25 149.35L356.25 148.87L358.27 148.87L359.27 149.35L359.77 149.83L360.28 150.79L360.28 151.75L359.77 152.71L358.77 154.15L353.74 158.95L360.78 158.95M366.82 148.87L365.31 149.35L364.30 150.79L363.80 153.19L363.80 154.63L364.30 157.03L365.31 158.47L366.82 158.95L367.82 158.95L369.33 158.47L370.34 157.03L370.84 154.63L370.84 153.19L370.34 150.79L369.33 149.35L367.82 148.87L366.82 148.87M376.88 148.87L375.37 149.35L374.36 150.79L373.86 153.19L373.86 154.63L374.36 157.03L375.37 158.47L376.88 158.95L377.88 158.95L379.39 158.47L380.40 157.03L380.90 154.63L380.90 153.19L380.40 150.79L379.39 149.35L377.88 148.87L376.88 148.87M386.43 148.87L384.93 149.35L384.42 150.31L384.42 151.27L384.93 152.23L385.93 152.71L387.94 153.19L389.45 153.67L390.46 154.63L390.96 155.59L390.96 157.03L390.46 157.99L389.95 158.47L388.45 158.95L386.43 158.95L384.93 158.47L384.42 157.99L383.92 157.03L383.92 155.59L384.42 154.63L385.43 153.67L386.94 153.19L388.95 152.71L389.95 152.23L390.46 151.27L390.46 150.31L389.95 149.35L388.45 148.87L386.43 148.87M393.98 146.95L394.99 147.91L395.99 149.35L397.00 151.27L397.50 153.67L397.50 155.59L397.00 157.99L395.99 159.91L394.99 161.35L393.98 162.31M411.80 151.27L411.80 150.79L412.30 149.83L412.79 149.35L413.79 148.87L415.78 148.87L416.78 149.35L417.28 149.83L417.78 150.79L417.78 151.75L417.28 152.71L416.28 154.15L411.30 158.95L418.28 158.95M427.24 148.87L422.26 148.87L421.76 153.19L422.26 152.71L423.76 152.23L425.25 152.23L426.75 152.71L427.74 153.67L428.24 155.11L428.24 156.07L427.74 157.51L426.75 158.47L425.25 158.95L423.76 158.95L422.26 158.47L421.76 157.99L421.26 157.03M431.73 148.87L431.73 158.95M431.73 148.87L435.71 158.95M439.70 148.87L435.71 158.95M439.70 148.87L439.70 158.95M452.6 162.25L461.0 147.15M464.50 148.87L464.50 158.95M464.50 148.87L470.20 148.87M464.50 153.67L468.01 153.67M464.50 158.95L470.20 158.95M475.50 156.40L473.00 156.40L472.75 158.65L473.00 158.40L473.75 158.15L474.50 158.15L475.25 158.40L475.75 158.90L476.00 159.65L476.00 160.15L475.75 160.90L475.25 161.40L474.50 161.65L473.75 161.65L473.00 161.40L472.75 161.15L472.50 160.65M478.25 157.40L478.75 157.15L479.50 156.40L479.50 161.65M483.80 153.19L492.50 153.19M483.80 156.07L492.50 156.07M497.60 150.79L498.88 150.31L500.80 148.87L500.80 158.95M228.18 280.62L228.18 288.30L227.69 289.74L227.20 290.22L226.21 290.70L225.22 290.70L224.24 290.22L223.74 289.74L223.25 288.30L223.25 287.34M234.11 283.98L233.12 284.46L232.13 285.42L231.64 286.86L231.64 287.82L232.13 289.26L233.12 290.22L234.11 290.70L235.59 290.70L236.57 290.22L237.56 289.26L238.05 287.82L238.05 286.86L237.56 285.42L236.57 284.46L235.59 283.98L234.11 283.98M246.93 283.98L246.93 291.66L246.44 293.10L245.95 293.58L244.96 294.06L243.48 294.06L242.49 293.58M246.93 285.42L245.95 284.46L244.96 283.98L243.48 283.98L242.49 284.46L241.51 285.42L241.01 286.86L241.01 287.82L241.51 289.26L242.49 290.22L243.48 290.70L244.96 290.70L245.95 290.22L246.93 289.26M256.31 283.98L256.31 291.66L255.82 293.10L255.32 293.58L254.33 294.06L252.85 294.06L251.87 293.58M256.31 285.42L255.32 284.46L254.33 283.98L252.85 283.98L251.87 284.46L250.88 285.42L250.39 286.86L250.39 287.82L250.88 289.26L251.87 290.22L252.85 290.70L254.33 290.70L255.32 290.22L256.31 289.26M259.76 286.86L265.68 286.86L265.68 285.90L265.19 284.94L264.70 284.46L263.71 283.98L262.23 283.98L261.24 284.46L260.26 285.42L259.76 286.86L259.76 287.82L260.26 289.26L261.24 290.22L262.23 290.70L263.71 290.70L264.70 290.22L265.68 289.26M269.14 283.98L269.14 290.70M269.14 286.86L269.63 285.42L270.62 284.46L271.60 283.98L273.08 283.98M280.49 285.42L279.99 284.46L278.51 283.98L277.03 283.98L275.55 284.46L275.06 285.42L275.55 286.38L276.54 286.86L279.01 287.34L279.99 287.82L280.49 288.78L280.49 289.26L279.99 290.22L278.51 290.70L277.03 290.70L275.55 290.22L275.06 289.26M284.43 280.62L284.43 288.78L284.93 290.22L285.91 290.70L286.90 290.70M282.95 283.98L286.41 283.98M299.50 286.86L305.40 286.86L305.40 285.90L304.91 284.94L304.42 284.46L303.44 283.98L301.96 283.98L300.98 284.46L299.99 285.42L299.50 286.86L299.50 287.82L299.99 289.26L300.98 290.22L301.96 290.70L303.44 290.70L304.42 290.22L305.40 289.26M309.34 280.62L309.34 288.78L309.83 290.22L310.82 290.70L311.80 290.70M307.86 283.98L311.31 283.98M329.82 283.98L329.82 290.70M329.82 285.42L328.77 284.46L327.71 283.98L326.13 283.98L325.08 284.46L324.03 285.42L323.50 286.86L323.50 287.82L324.03 289.26L325.08 290.22L326.13 290.70L327.71 290.70L328.77 290.22L329.82 289.26M334.03 280.62L334.03 290.70M338.77 289.74L338.25 290.22L338.77 290.70L339.30 290.22L338.77 289.74M356.11 278.70L355.07 279.66L354.05 281.10L353.01 283.02L352.50 285.42L352.50 287.34L353.01 289.74L354.05 291.66L355.07 293.10L356.11 294.06M359.71 283.02L359.71 282.54L360.23 281.58L360.74 281.10L361.77 280.62L363.83 280.62L364.86 281.10L365.38 281.58L365.89 282.54L365.89 283.50L365.38 284.46L364.35 285.90L359.19 290.70L366.40 290.70M372.58 280.62L371.04 281.10L370.01 282.54L369.50 284.94L369.50 286.38L370.01 288.78L371.04 290.22L372.58 290.70L373.62 290.70L375.16 290.22L376.19 288.78L376.70 286.38L376.70 284.94L376.19 282.54L375.16 281.10L373.62 280.62L372.58 280.62M381.34 282.54L382.37 282.06L383.92 280.62L383.92 290.70M393.19 280.62L391.64 281.10L390.61 282.54L390.10 284.94L390.10 286.38L390.61 288.78L391.64 290.22L393.19 290.70L394.21 290.70L395.76 290.22L396.79 288.78L397.31 286.38L397.31 284.94L396.79 282.54L395.76 281.10L394.21 280.62L393.19 280.62M400.39 278.70L401.43 279.66L402.45 281.10L403.49 283.02L404.00 285.42L404.00 287.34L403.49 289.74L402.45 291.66L401.43 293.10L400.39 294.06M427.20 280.62L427.20 290.70M427.20 280.62L431.30 290.70M435.40 280.62L431.30 290.70M435.40 280.62L435.40 290.70M441.55 283.98L440.52 284.46L439.50 285.42L438.99 286.86L438.99 287.82L439.50 289.26L440.52 290.22L441.55 290.70L443.09 290.70L444.11 290.22L445.14 289.26L445.65 287.82L445.65 286.86L445.14 285.42L444.11 284.46L443.09 283.98L441.55 283.98M454.88 280.62L454.88 290.70M454.88 285.42L453.85 284.46L452.82 283.98L451.29 283.98L450.26 284.46L449.24 285.42L448.72 286.86L448.72 287.82L449.24 289.26L450.26 290.22L451.29 290.70L452.82 290.70L453.85 290.22L454.88 289.26M458.46 286.86L464.61 286.86L464.61 285.90L464.10 284.94L463.59 284.46L462.56 283.98L461.02 283.98L460.00 284.46L458.97 285.42L458.46 286.86L458.46 287.82L458.97 289.26L460.00 290.22L461.02 290.70L462.56 290.70L463.59 290.22L464.61 289.26M468.20 280.62L468.20 290.70M486.00 283.98L480.50 290.70M480.50 283.98L486.00 283.98M480.50 290.70L486.00 290.70M490.50 282.54L491.50 282.06L493.00 280.62L493.00 290.70M505.00 280.62L500.00 280.62L499.50 284.94L500.00 284.46L501.50 283.98L503.00 283.98L504.50 284.46L505.50 285.42L506.00 286.86L506.00 287.82L505.50 289.26L504.50 290.22L503.00 290.70L501.50 290.70L500.00 290.22L499.50 289.74L499.00 288.78M516.50 283.02L516.00 282.06L515.00 281.10L514.00 280.62L512.00 280.62L511.00 281.10L510.00 282.06L509.50 283.02L509.00 284.46L509.00 286.86L509.50 288.30L510.00 289.26L511.00 290.22L512.00 290.70L514.00 290.70L515.00 290.22L516.00 289.26L516.50 288.30L516.50 286.86M514.00 286.86L516.50 286.86" fill="none" stroke="#333" stroke-width="1.0" stroke-linecap="round" stroke-linejoin="round"/>
</svg></div></body></html>
